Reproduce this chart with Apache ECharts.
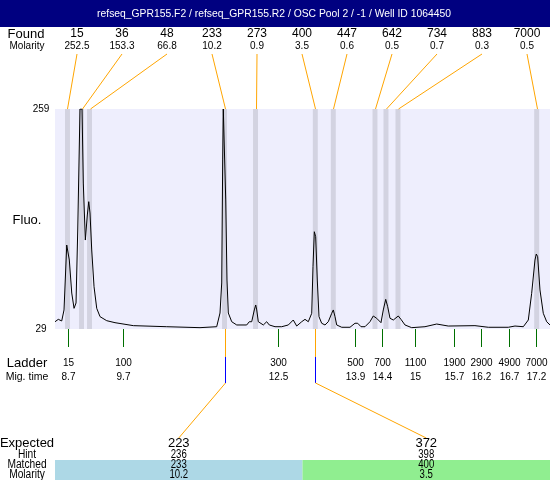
<!DOCTYPE html>
<html><head><meta charset="utf-8">
<script src="https://cdn.jsdelivr.net/npm/echarts@6/dist/echarts.min.js"></script>
<style>html,body{margin:0;padding:0;background:#fff}#c{width:550px;height:480px}</style>
</head><body><div id="c"></div>
<script>
// ---------- data ----------
const titleText = 'refseq_GPR155.F2 / refseq_GPR155.R2 / OSC Pool 2 / -1 / Well ID 1064450';
const traceTime = [8.458,8.518,8.580,8.622,8.671,8.718,8.762,8.804,8.840,8.871,8.912,8.949,8.972,9.009,9.045,9.071,9.094,9.125,9.167,9.216,9.276,9.397,9.548,9.881,10.487,11.092,11.395,11.455,11.486,11.504,11.515,11.533,11.559,11.582,11.606,11.668,11.759,11.940,11.987,12.031,12.078,12.104,12.122,12.151,12.242,12.303,12.351,12.454,12.576,12.696,12.786,12.848,12.939,12.999,13.059,13.121,13.144,13.168,13.193,13.222,13.253,13.302,13.362,13.422,13.484,13.513,13.544,13.575,13.666,13.816,13.907,13.956,14.016,14.089,14.179,14.239,14.301,14.379,14.421,14.465,14.501,14.543,14.603,14.693,14.742,14.815,14.937,15.178,15.391,15.601,16.086,16.328,16.691,16.813,16.964,17.055,17.116,17.176,17.200,17.225,17.267,17.327,17.389,17.449];
const traceFluo = [36.6,39.1,37.4,48.9,116.8,101.1,66.6,50.6,56.2,132.5,259,259,181.6,122.0,148.2,162.1,150.3,111.6,73.2,50.6,41.9,37.7,35.6,32.5,31.4,30.4,31.4,45.7,77.1,205.7,259,259,163.9,80.2,45.7,36.6,33.2,33.2,36.6,36.6,48.9,54.1,48.9,36.6,33.2,36.6,33.2,31.4,31.4,33.2,38.4,32.1,36.6,39.1,36.6,45.4,94.1,130.7,125.5,80.2,41.9,35.0,33.2,36.6,45.4,48.9,41.9,33.2,30.8,30.8,35.0,35.0,31.4,31.4,36.6,42.6,40.2,35.6,48.9,60.0,52.3,40.2,38.4,42.6,39.1,33.2,30.4,31.4,34.2,32.1,32.5,30.8,30.8,32.1,31.4,38.4,66.3,101.1,107.4,104.6,69.8,45.4,36.6,33.2];
const foundSizes = [15,36,48,233,273,400,447,642,734,883,7000];
const foundMolarity = ['252.5','153.3','66.8','10.2','0.9','3.5','0.6','0.5','0.7','0.3','0.5'];
const foundTimes = [8.685,8.940,9.085,11.537,12.100,13.186,13.513,14.270,14.470,14.688,17.207];
const ladderSizes = ['15','100','300','500','700','1100','1900','2900','4900','7000'];
const ladderTimes = ['8.7','9.7','12.5','13.9','14.4','15','15.7','16.2','16.7','17.2'];
const yTicks = [29, 259];
const xRange = [8.458, 17.449];
const expectedSizes = ['223','372'];
const hintSizes = ['236','398'];
const matchedSizes = [233, 400];
const matchedMolarity = ['10.2','3.5'];

// ---------- styles ----------
const FONT = 'Arial, "Liberation Sans", sans-serif';
const ORANGE = '#FFA500', GREEN = '#006F00', BLUE = '#0000FF';
const rowColors = ['#ADD8E6', '#90EE90'];
const bandHalf = 0.045;

const chart = echarts.init(document.getElementById('c'), null, {renderer: 'canvas'});
chart.setOption({
  animation: false,
  grid: {left: 55, right: 0, top: 109, bottom: 151, show: true, backgroundColor: '#EEEEFD', borderWidth: 0},
  xAxis: {type: 'value', min: xRange[0], max: xRange[1], show: false},
  yAxis: {type: 'value', min: yTicks[0], max: yTicks[1], interval: yTicks[1] - yTicks[0],
    axisLine: {show: false}, axisTick: {show: false}, splitLine: {show: false},
    axisLabel: {color: '#000', fontSize: 10, fontFamily: FONT, align: 'center', margin: 14}},
  series: [{
    type: 'line', showSymbol: false, symbol: 'none',
    data: traceTime.map((t, i) => [t, traceFluo[i]]),
    lineStyle: {color: '#000', width: 1}, z: 5,
    markArea: {silent: true, itemStyle: {color: '#D3D3E1'},
      data: foundTimes.map(t => [{xAxis: t - bandHalf}, {xAxis: t + bandHalf}])}
  }]
});

const px = t => chart.convertToPixel({xAxisIndex: 0}, t);
const g = [];
const txt = (text, x, y, size, opts) => {
  opts = opts || {};
  g.push({type: 'text', x: x, y: y, scaleX: opts.sx || 1, scaleY: opts.sy || 1, z: 10,
    style: {text: String(text), x: 0, y: 0, fill: opts.fill || '#000', font: size + 'px ' + FONT,
      fontSize: size, fontFamily: FONT,
      align: opts.align || 'center', textAlign: opts.align || 'center',
      verticalAlign: 'middle', textVerticalAlign: 'middle'}});
};
const ln = (x1, y1, x2, y2, c) => g.push({type: 'line', z: 9,
  shape: {x1: x1, y1: y1, x2: x2, y2: y2}, style: {stroke: c, lineWidth: 1}});

// title bar
g.push({type: 'rect', z: 1, shape: {x: 0, y: 0, width: 550, height: 27}, style: {fill: '#000080'}});
txt(titleText, 274, 14, 11, {fill: '#fff', sx: 0.94});

// found rows
txt('Found', 26, 34, 13);
txt('Molarity', 27, 46, 10);
foundSizes.forEach((s, i) => {
  const cx = 77 + 45 * i;
  txt(s, cx, 34, 12);
  txt(foundMolarity[i], cx, 46, 10);
  ln(cx, 54, Math.round(px(foundTimes[i])) + 0.5, 109, ORANGE);
});

// fluo label
txt('Fluo.', 27, 220, 13);

// ladder
txt('Ladder', 27, 363, 13);
txt('Mig. time', 27, 377, 10.5);
ladderTimes.forEach((t, i) => {
  const x = Math.round(px(parseFloat(t))) + 0.5;
  ln(x, 329, x, 347, GREEN);
  txt(ladderSizes[i], x, 363, 10);
  txt(t, x, 377, 10);
});

// expected section
const left = 55, right = 550, colW = (right - left) / expectedSizes.length;
expectedSizes.forEach((e, i) => {
  g.push({type: 'rect', z: 1, shape: {x: left + colW * i, y: 460, width: colW, height: 20}, style: {fill: rowColors[i]}});
});
txt('Expected', 27, 443, 13);
txt('Hint', 27, 455, 12, {sx: 0.85});
txt('Matched', 27, 465, 12, {sx: 0.85});
txt('Molarity', 27, 475, 12, {sx: 0.85});
expectedSizes.forEach((e, i) => {
  const cx = left + colW * (i + 0.5);
  txt(e, cx, 443, 13);
  txt(hintSizes[i], cx, 455, 12, {sx: 0.8});
  txt(matchedSizes[i], cx, 465, 12, {sx: 0.8});
  txt(matchedMolarity[i], cx, 475, 12, {sx: 0.8});
  const bx = Math.round(px(foundTimes[foundSizes.indexOf(matchedSizes[i])])) + 0.5;
  ln(bx, 329, bx, 357, ORANGE);
  ln(bx, 357, bx, 383, BLUE);
  ln(bx, 383, cx, 438, ORANGE);
});

chart.setOption({graphic: g});
</script></body></html>
